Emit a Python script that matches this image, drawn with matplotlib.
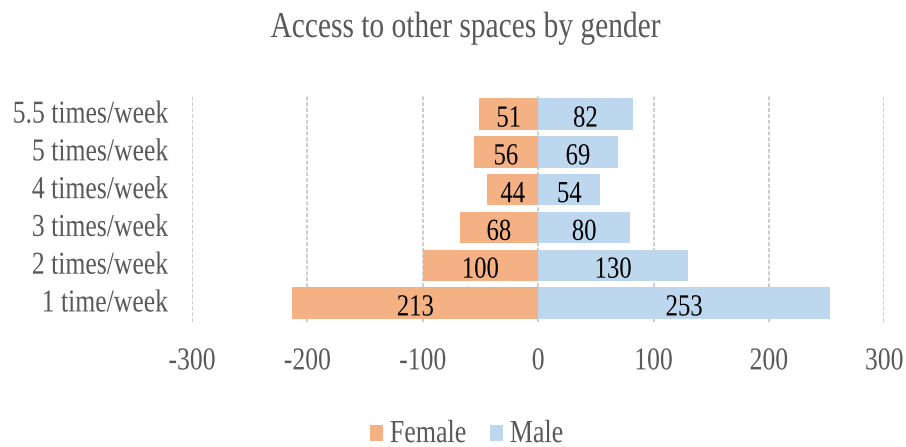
import matplotlib
matplotlib.use("Agg")
import matplotlib.pyplot as plt
import numpy as np
from matplotlib.patheffects import AbstractPathEffect
from matplotlib.transforms import Affine2D, offset_copy

categories = ["1 time/week", "2 times/week", "3 times/week", "4 times/week", "5 times/week", "5.5 times/week"]
female = [213, 100, 68, 44, 56, 51]
male = [253, 130, 80, 54, 69, 82]
xticks = [-300, -200, -100, 0, 100, 200, 300]


class VStretch(AbstractPathEffect):
    """Stretch text glyphs vertically about their baseline."""
    def __init__(self, sy=1.24):
        super().__init__()
        self.sy = sy

    def draw_path(self, renderer, gc, tpath, affine, rgbFace=None):
        m = affine.get_matrix()
        x0, y0 = m[0, 2], m[1, 2]
        new = affine + Affine2D().translate(-x0, -y0).scale(1, self.sy).translate(x0, y0)
        renderer.draw_path(gc, tpath, new, rgbFace)


plt.rcParams['font.family'] = ['Liberation Serif', 'DejaVu Serif']
stretch = [VStretch(1.24)]
gray = "#595959"

fig = plt.figure(figsize=(9.06, 4.47), dpi=100)
ax = fig.add_axes([0.212, 0.280, 0.764, 0.507])

y = np.arange(len(categories))
fcol = "#F4B183"
mcol = "#BDD7EE"
bf = ax.barh(y, [-v for v in female], height=0.83, color=fcol, label="Female", zorder=3)
bm = ax.barh(y, male, height=0.83, color=mcol, label="Male", zorder=3)

lab_tr = offset_copy(ax.transData, fig=fig, x=0, y=-9.0, units="points")
for yi, v in zip(y, female):
    t = ax.text(-v / 2, yi, str(v), ha="center", va="baseline", fontsize=17.8,
                color="black", zorder=4, transform=lab_tr)
    t.set_path_effects(stretch)
for yi, v in zip(y, male):
    t = ax.text(v / 2, yi, str(v), ha="center", va="baseline", fontsize=17.8,
                color="black", zorder=4, transform=lab_tr)
    t.set_path_effects(stretch)

ax.set_xlim(-300, 300)
ax.set_ylim(-0.5, len(categories) - 0.5)
ax.set_xticks(xticks)
ax.set_xticklabels([str(t) for t in xticks])
ax.set_yticks(y)
ax.set_yticklabels(categories)
ax.tick_params(axis="both", length=0, labelsize=18.5, colors=gray)
ax.tick_params(axis="x", pad=22)
ax.tick_params(axis="y", pad=17)
for s in ax.spines.values():
    s.set_visible(False)
ax.grid(axis="x", color="#CCCCCC", linewidth=1.4, linestyle=(0, (2, 1)), zorder=0)
ax.set_axisbelow(True)

for t in ax.get_xticklabels() + ax.get_yticklabels():
    t.set_path_effects(stretch)

title = fig.text(0.513, 1 - 37 / 447, "Access to other spaces by gender", ha="center",
                 va="baseline", fontsize=21.2, color=gray)
title.set_path_effects(stretch)

leg = fig.legend(handles=[bf, bm], labels=["Female", "Male"], loc="center",
                 bbox_to_anchor=(0.515, 0.025), ncol=2, frameon=False, fontsize=18.7,
                 handlelength=0.52, handleheight=0.62, handletextpad=0.25, columnspacing=0.9,
                 labelcolor=gray)
for t in leg.get_texts():
    t.set_path_effects(stretch)

fig.savefig("out.png", dpi=100)
